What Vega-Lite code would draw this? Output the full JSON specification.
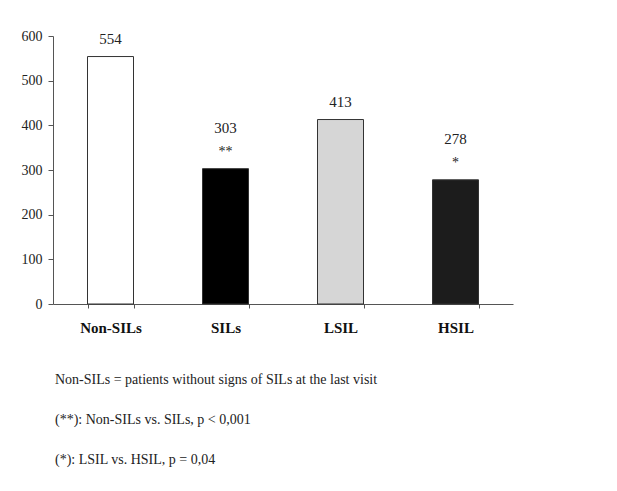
{
  "$schema": "https://vega.github.io/schema/vega-lite/v6.json",
  "autosize": "none",
  "width": 460,
  "height": 268,
  "padding": {"left": 53, "top": 36, "right": 104, "bottom": 187},
  "background": "white",
  "config": {"view": {"stroke": null}, "font": "Liberation Serif"},
  "data": {
    "values": [
      {"group": "Non-SILs", "value": 554, "stars": "", "fill": "#ffffff"},
      {"group": "SILs", "value": 303, "stars": "**", "fill": "#000000"},
      {"group": "LSIL", "value": 413, "stars": "", "fill": "#d6d6d6"},
      {"group": "HSIL", "value": 278, "stars": "*", "fill": "#1c1c1c"}
    ]
  },
  "title": {
    "text": [
      "Non-SILs = patients without signs of SILs at the last visit",
      "(**): Non-SILs vs. SILs, p < 0,001",
      "(*): LSIL vs. HSIL, p = 0,04"
    ],
    "orient": "bottom",
    "anchor": "start",
    "frame": "group",
    "dx": 2,
    "offset": 38,
    "fontSize": 14,
    "fontWeight": "normal",
    "font": "Liberation Serif",
    "color": "#222",
    "lineHeight": 40,
    "baseline": "top"
  },
  "encoding": {
    "x": {
      "field": "group",
      "type": "nominal",
      "sort": null,
      "scale": {"paddingInner": 0.6, "paddingOuter": 0.3},
      "axis": {
        "title": null,
        "labelAngle": 0,
        "labelFont": "Liberation Serif",
        "labelFontWeight": "bold",
        "labelFontSize": 15,
        "labelColor": "#111",
        "labelPadding": 12,
        "tickBand": "extent",
        "tickSize": 4,
        "tickColor": "#555",
        "domainColor": "#555"
      }
    },
    "y": {
      "field": "value",
      "type": "quantitative",
      "scale": {"domain": [0, 600]},
      "axis": {
        "title": null,
        "grid": false,
        "values": [0, 100, 200, 300, 400, 500, 600],
        "labelFont": "Liberation Serif",
        "labelFontSize": 14,
        "labelColor": "#222",
        "labelPadding": 6,
        "tickSize": 5,
        "tickColor": "#555",
        "domainColor": "#555"
      }
    }
  },
  "layer": [
    {
      "mark": {"type": "bar", "stroke": "#333", "strokeWidth": 1},
      "encoding": {
        "fill": {"field": "fill", "type": "nominal", "scale": null}
      }
    },
    {
      "transform": [{"filter": "datum.stars === ''"}],
      "mark": {
        "type": "text",
        "baseline": "bottom",
        "dy": -10,
        "fontSize": 15,
        "font": "Liberation Serif",
        "color": "#222"
      },
      "encoding": {"text": {"field": "value", "type": "quantitative"}}
    },
    {
      "transform": [{"filter": "datum.stars !== ''"}],
      "mark": {
        "type": "text",
        "baseline": "bottom",
        "dy": -33,
        "fontSize": 15,
        "font": "Liberation Serif",
        "color": "#222"
      },
      "encoding": {"text": {"field": "value", "type": "quantitative"}}
    },
    {
      "transform": [{"filter": "datum.stars !== ''"}],
      "mark": {
        "type": "text",
        "baseline": "bottom",
        "dy": -10,
        "fontSize": 14,
        "font": "Liberation Serif",
        "color": "#222"
      },
      "encoding": {"text": {"field": "stars"}}
    }
  ]
}
